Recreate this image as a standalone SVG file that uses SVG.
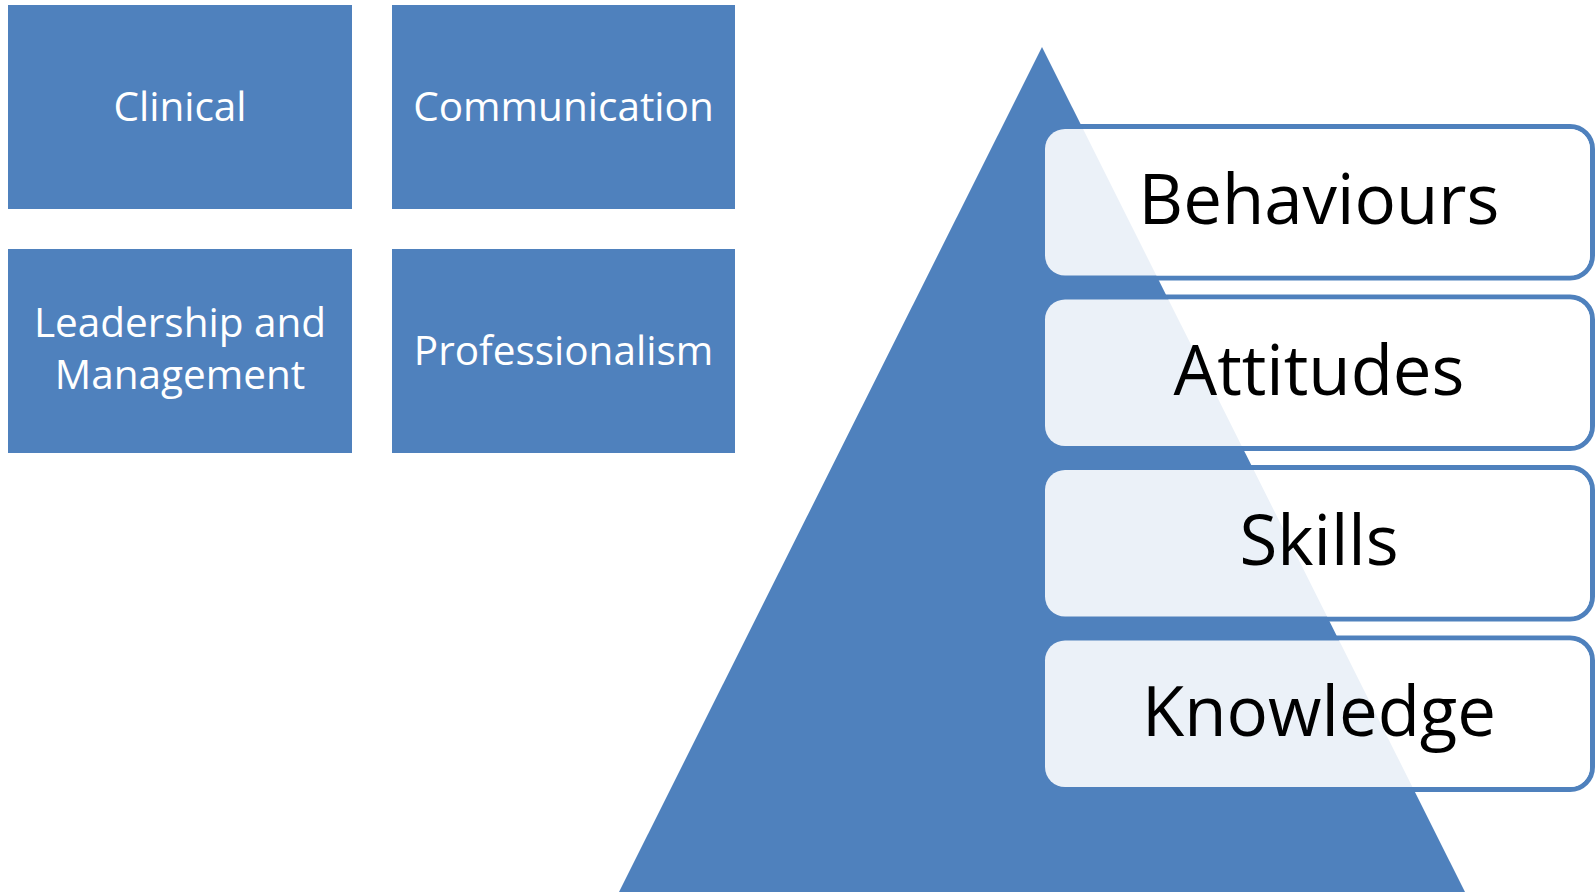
<svg xmlns="http://www.w3.org/2000/svg" width="1596" height="892" viewBox="0 0 1596 892">
<style>
.box{fill:#4F81BD;}
.wt{fill:#FFFFFF;font-family:"Open Sans","Noto Sans",sans-serif;font-size:40.5px;text-anchor:middle;}
.outl{fill:#FFFFFF;stroke:#4F81BD;stroke-width:5;}
.lite{fill:#FFFFFF;fill-opacity:0.885;}
.bt{fill:#000000;font-family:"Open Sans","Noto Sans",sans-serif;font-size:69px;text-anchor:middle;}
</style>
<rect width="1596" height="892" fill="#FFFFFF"/>
<g id="clinical"><rect class="box" x="8" y="5" width="344" height="204"/><text class="wt" x="180" y="120.5">Clinical</text></g>
<g id="communication"><rect class="box" x="392" y="5" width="343" height="204"/><text class="wt" x="563.5" y="120.5">Communication</text></g>
<g id="leadership"><rect class="box" x="8" y="249" width="344" height="204"/><text class="wt" x="180" y="337">Leadership and</text><text class="wt" x="180" y="389">Management</text></g>
<g id="professionalism"><rect class="box" x="392" y="249" width="343" height="204"/><text class="wt" x="563.5" y="364.5">Professionalism</text></g>
<g id="outlines">
<rect class="outl" x="1042.5" y="126.5" width="550" height="151.5" rx="22.5"/>
<rect class="outl" x="1042.5" y="297" width="550" height="151.5" rx="22.5"/>
<rect class="outl" x="1042.5" y="467.5" width="550" height="151.5" rx="22.5"/>
<rect class="outl" x="1042.5" y="638" width="550" height="151.5" rx="22.5"/>
</g>
<g id="pyramid"><polygon points="1042,47 1466,894 618,894" fill="#4F81BD"/></g>
<g id="behaviours"><rect class="lite" x="1045" y="129" width="545" height="146.5" rx="20"/><text class="bt" x="1319" y="224">Behaviours</text></g>
<g id="attitudes"><rect class="lite" x="1045" y="299.5" width="545" height="146.5" rx="20"/><text class="bt" x="1319" y="394.5">Attitudes</text></g>
<g id="skills"><rect class="lite" x="1045" y="470" width="545" height="146.5" rx="20"/><text class="bt" x="1319" y="565">Skills</text></g>
<g id="knowledge"><rect class="lite" x="1045" y="640.5" width="545" height="146.5" rx="20"/><text class="bt" x="1319" y="735.5">Knowledge</text></g>
<g id="connectors"></g>
</svg>
